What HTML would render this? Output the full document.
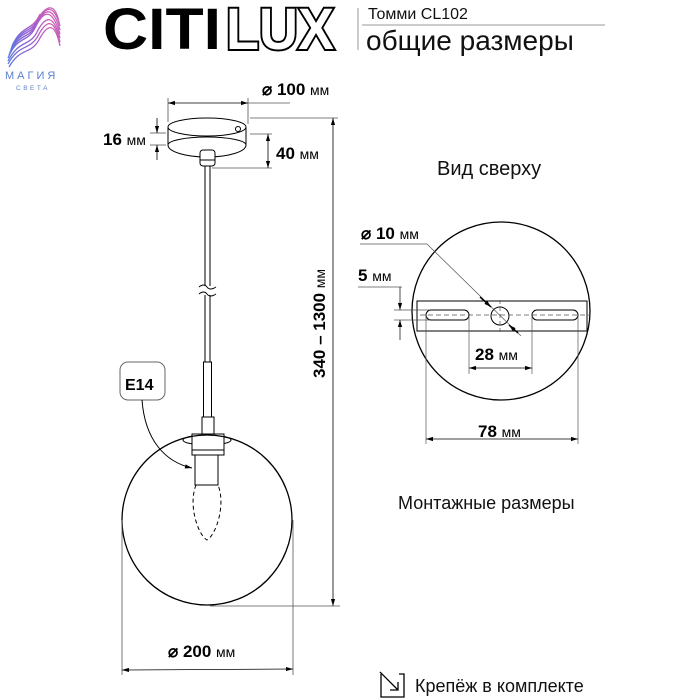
<!DOCTYPE html>
<html><head><meta charset="utf-8"><style>
html,body{margin:0;padding:0;background:#fff;}
svg{display:block;font-family:"Liberation Sans",sans-serif;}
</style></head><body>
<svg width="700" height="700" viewBox="0 0 700 700" xmlns="http://www.w3.org/2000/svg">
<defs>
<linearGradient id="g" x1="0" y1="1" x2="1" y2="0">
<stop offset="0" stop-color="#5a7be0"/><stop offset="0.5" stop-color="#9a5cd0"/><stop offset="1" stop-color="#d860b0"/>
</linearGradient>
<marker id="a" viewBox="0 0 10 10" refX="10" refY="5" markerWidth="10" markerHeight="7" orient="auto-start-reverse" markerUnits="userSpaceOnUse"><path d="M0,2 L10,5 L0,8z" fill="#000"/></marker>
</defs>
<!-- logo -->
<g fill="none" stroke="url(#g)" stroke-width="1.3">
<path d="M8,58 C18,34 28,44 36,26 C44,10 52,8 60,34"/>
<path d="M9,55 C19,31 29,41 37,23 C45,8 53,6 60,30"/>
<path d="M10,52 C20,28 30,38 38,20 C46,6 54,4 60,26"/>
<path d="M11,49 C21,26 31,35 39,17 C47,5 55,3 59,22"/>
<path d="M12,46 C22,24 32,32 40,14"/>
<path d="M8,61 C20,38 30,48 38,30 C46,16 53,14 60,38"/>
<path d="M8,64 C20,42 30,52 39,34 C47,20 54,18 60,42"/>
<path d="M9,67 C21,46 31,56 40,38 C48,24 55,22 60,46"/>
</g>
<text x="5" y="79" font-size="11" fill="#5a7fd0" letter-spacing="3">МАГИЯ</text>
<text x="16" y="90" font-size="6.5" fill="#5a7fd0" letter-spacing="2.5">СВЕТА</text>
<!-- CITILUX -->
<text x="103" y="49" font-size="58" font-weight="bold" fill="#000" textLength="118" lengthAdjust="spacingAndGlyphs">CITI</text>
<text x="226" y="49" font-size="58" font-weight="bold" fill="#fff" stroke="#000" stroke-width="4" paint-order="stroke" textLength="108" lengthAdjust="spacingAndGlyphs">LUX</text>
<line x1="358" y1="8" x2="358" y2="50" stroke="#999" stroke-width="1"/>
<line x1="362" y1="25" x2="605" y2="25" stroke="#999" stroke-width="1"/>
<text x="368" y="19" font-size="16" fill="#111">Томми CL102</text>
<text x="366" y="50" font-size="28" fill="#111">общие размеры</text>
<!-- ceiling cup -->
<g stroke="#000" fill="none" stroke-width="1">
<path d="M168,127 L168,145 A39,12 0 0 0 246,145 L246,127"/>
<ellipse cx="207" cy="127" rx="39" ry="9" fill="#fff"/>
<path d="M168,145 A39,8 0 0 1 246,145" stroke="#000"/>
<circle cx="238" cy="129" r="2.5"/>
<rect x="200" y="150" width="15" height="16" rx="3" fill="#fff"/>
<line x1="200" y1="160" x2="215" y2="160"/>
<line x1="205" y1="166" x2="205" y2="286"/><line x1="210" y1="166" x2="210" y2="286"/>
<line x1="205" y1="295" x2="205" y2="362"/><line x1="210" y1="295" x2="210" y2="362"/>
<path d="M199,287 Q204,283 207,287 T216,287 M199,294 Q204,290 207,294 T216,294"/>
<rect x="203.5" y="362" width="8" height="55" fill="#fff"/>
<rect x="202" y="417" width="12" height="17" fill="#fff"/>
<ellipse cx="207" cy="440" rx="24" ry="5"/>
<rect x="192" y="434" width="32" height="21" fill="#fff"/>
<line x1="192" y1="450" x2="224" y2="450"/>
<rect x="195" y="455" width="23" height="30" fill="#fff"/>
<path d="M196,485 C188,505 198,535 207,540 C216,535 226,505 218,485" stroke-dasharray="4,3"/>
<circle cx="207" cy="520" r="85" stroke-width="1.3"/>
<rect x="120" y="362" width="45" height="38" rx="8" stroke="#666"/>
<path d="M142,400 C145,440 165,462 192,468" marker-end="url(#a)"/>
</g>
<text x="125" y="390" font-size="16" font-weight="bold">E14</text>
<!-- dims left -->
<g stroke="#555" stroke-width="0.8" fill="none">
<line x1="168" y1="98" x2="168" y2="122"/><line x1="248" y1="98" x2="248" y2="124"/>
<line x1="168" y1="103" x2="248" y2="103" marker-start="url(#a)" marker-end="url(#a)" stroke="#000"/>
<line x1="248" y1="103" x2="290" y2="103"/>
<line x1="250" y1="118" x2="338" y2="118"/>
<line x1="212" y1="168" x2="272" y2="168"/>
<line x1="250" y1="134" x2="272" y2="134"/>
<line x1="268" y1="134" x2="268" y2="168" marker-start="url(#a)" marker-end="url(#a)" stroke="#000"/>
<line x1="150" y1="133" x2="166" y2="133"/><line x1="150" y1="145" x2="166" y2="145"/>
<line x1="157" y1="118" x2="157" y2="133" marker-end="url(#a)" stroke="#000"/>
<line x1="157" y1="160" x2="157" y2="145" marker-end="url(#a)" stroke="#000"/>
<line x1="333" y1="118" x2="333" y2="606" marker-start="url(#a)" marker-end="url(#a)" stroke="#000"/>
<line x1="210" y1="606" x2="340" y2="606"/>
<line x1="122" y1="520" x2="122" y2="675"/><line x1="293" y1="520" x2="293" y2="675"/>
<line x1="122" y1="670" x2="293" y2="669" marker-start="url(#a)" marker-end="url(#a)" stroke="#000"/>
</g>
<text x="262" y="95" font-size="17" font-weight="bold">⌀ 100 <tspan font-weight="normal" font-size="14">мм</tspan></text>
<text x="103" y="145" font-size="17" font-weight="bold">16 <tspan font-weight="normal" font-size="14">мм</tspan></text>
<text x="276" y="159" font-size="17" font-weight="bold">40 <tspan font-weight="normal" font-size="14">мм</tspan></text>
<text transform="translate(325,378) rotate(-90)" font-size="17" font-weight="bold">340 – 1300 <tspan font-weight="normal" font-size="14">мм</tspan></text>
<text x="168" y="657" font-size="17" font-weight="bold">⌀ 200 <tspan font-weight="normal" font-size="14">мм</tspan></text>
<!-- right -->
<text x="437" y="175" font-size="20" fill="#111">Вид сверху</text>
<g stroke="#000" fill="none" stroke-width="1">
<circle cx="501" cy="311" r="89" stroke-width="1.3"/>
<rect x="417" y="301" width="170" height="30" fill="#fff"/>
<rect x="426" y="310" width="43" height="10" rx="5"/>
<rect x="532" y="310" width="46" height="10" rx="5"/>
<circle cx="500" cy="316" r="9"/>
</g>
<g stroke="#555" stroke-width="0.7" fill="none">
<line x1="420" y1="315" x2="590" y2="315" stroke-dasharray="5,3"/>
<line x1="500" y1="300" x2="500" y2="333" stroke-dasharray="4,3"/>
<line x1="360" y1="244" x2="427" y2="244"/>
<line x1="427" y1="244" x2="521" y2="336"/>
<line x1="480" y1="297" x2="491" y2="307" stroke="#000" stroke-width="1.5" marker-end="url(#a)"/>
<line x1="518" y1="333" x2="509" y2="325" stroke="#000" stroke-width="1.5" marker-end="url(#a)"/>
<line x1="358" y1="287" x2="402" y2="287"/>
<line x1="394" y1="310" x2="430" y2="310"/><line x1="394" y1="320" x2="430" y2="320"/>
<line x1="400" y1="287" x2="400" y2="310" marker-end="url(#a)" stroke="#000"/>
<line x1="400" y1="340" x2="400" y2="320" marker-end="url(#a)" stroke="#000"/>
<line x1="469" y1="316" x2="469" y2="374"/><line x1="532" y1="316" x2="532" y2="374"/>
<line x1="469" y1="368" x2="532" y2="368" marker-start="url(#a)" marker-end="url(#a)" stroke="#000"/>
<line x1="426" y1="316" x2="426" y2="444"/><line x1="578" y1="316" x2="578" y2="444"/>
<line x1="426" y1="439" x2="578" y2="439" marker-start="url(#a)" marker-end="url(#a)" stroke="#000"/>
</g>
<text x="361" y="239" font-size="17" font-weight="bold">⌀ 10 <tspan font-weight="normal" font-size="14">мм</tspan></text>
<text x="358" y="281" font-size="17" font-weight="bold">5 <tspan font-weight="normal" font-size="14">мм</tspan></text>
<text x="475" y="360" font-size="17" font-weight="bold">28 <tspan font-weight="normal" font-size="14">мм</tspan></text>
<text x="478" y="437" font-size="17" font-weight="bold">78 <tspan font-weight="normal" font-size="14">мм</tspan></text>
<text x="398" y="509" font-size="18" fill="#111">Монтажные размеры</text>
<!-- footer -->
<g stroke="#000" fill="none" stroke-width="1.3">
<path d="M381,674 L381,697 L404,697 L404,674 L399,674"/>
<line x1="380" y1="672" x2="398" y2="690"/>
<path d="M390,690 L398,690 L398,682"/>
</g>
<text x="415" y="692" font-size="18" fill="#111">Крепёж в комплекте</text>
</svg>
</body></html>
